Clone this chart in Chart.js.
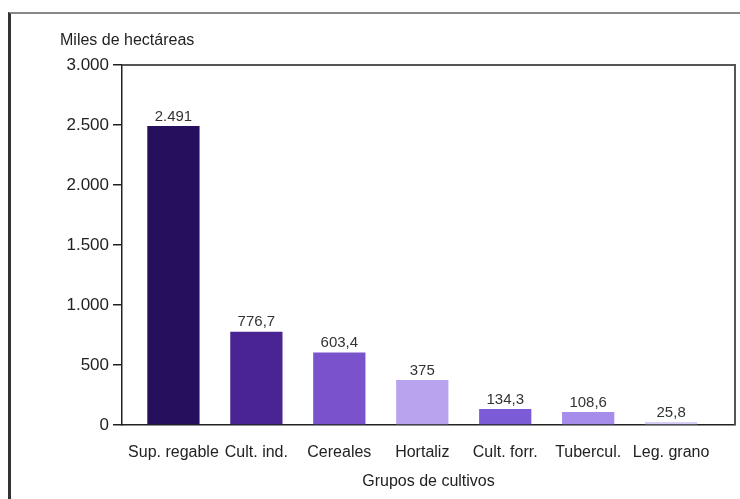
<!DOCTYPE html>
<html>
<head>
<meta charset="utf-8">
<script src="https://cdn.jsdelivr.net/npm/chart.js@4/dist/chart.umd.min.js"></script>
<style>
  html, body { margin: 0; padding: 0; background: #fff; }
  #wrap { position: relative; width: 740px; height: 499px; overflow: hidden; }
  #frame { position: absolute; left: 8px; top: 12px; width: 740px; height: 500px;
           border-left: 3px solid #333; border-top: 2px solid #888; box-sizing: border-box; }
  canvas { position: absolute; left: 0; top: 0; }
</style>
</head>
<body>
<div id="wrap">
  <div id="frame"></div>
  <canvas id="chart" width="740" height="499"></canvas>
</div>
<script>
// Datos: superficie de regadío por grupos de cultivos (miles de hectáreas)
const categories = ['Sup. regable', 'Cult. ind.', 'Cereales', 'Hortaliz', 'Cult. forr.', 'Tubercul.', 'Leg. grano'];
const values = [2491, 776.7, 603.4, 375, 134.3, 108.6, 25.8];
const valueLabels = ['2.491', '776,7', '603,4', '375', '134,3', '108,6', '25,8'];
const yTicks = [0, 500, 1000, 1500, 2000, 2500, 3000];

const BAR_COLORS = ['#26105e', '#4a2492', '#7a53cc', '#b9a3ef', '#7b5cd6', '#a68ceb', '#d8cdf6'];
const FONT = "'Liberation Sans', Arial, sans-serif";
const TEXT = '#222';

// Marco superior/derecho del área de trazado + etiqueta del eje Y
const framePlugin = {
    id: 'framePlugin',
    afterDraw(chart) {
        const { ctx, chartArea: a } = chart;
        ctx.save();
        ctx.strokeStyle = '#555';
        ctx.lineWidth = 2;
        ctx.beginPath();
        ctx.moveTo(a.left, a.top);
        ctx.lineTo(a.right, a.top);
        ctx.lineTo(a.right, a.bottom);
        ctx.stroke();

        ctx.fillStyle = TEXT;
        ctx.font = '16px ' + FONT;
        ctx.textAlign = 'left';
        ctx.textBaseline = 'middle';
        ctx.fillText('Miles de hectáreas', a.left - 62, a.top - 24);
        ctx.restore();
    }
};

// Valores encima de cada barra
const valuePlugin = {
    id: 'valuePlugin',
    afterDatasetsDraw(chart) {
        const { ctx } = chart;
        const meta = chart.getDatasetMeta(0);
        ctx.save();
        ctx.fillStyle = '#333';
        ctx.font = '15px ' + FONT;
        ctx.textAlign = 'center';
        ctx.textBaseline = 'bottom';
        meta.data.forEach((bar, i) => {
            ctx.fillText(valueLabels[i], bar.x, bar.y - 2);
        });
        ctx.restore();
    }
};

new Chart(document.getElementById('chart'), {
    type: 'bar',
    data: {
        datasets: [{
            data: values.map((v, i) => ({ x: i, y: v })),
            backgroundColor: BAR_COLORS,
            borderWidth: 0,
            categoryPercentage: 1,
            barPercentage: 0.63
        }]
    },
    options: {
        responsive: false,
        animation: false,
        layout: { padding: { top: 65, right: 5, left: 0, bottom: 0 } },
        plugins: {
            legend: { display: false },
            tooltip: { enabled: false }
        },
        scales: {
            x: {
                type: 'linear',
                offset: false,
                min: -0.62,
                max: 6.77,
                afterBuildTicks: scale => { scale.ticks = categories.map((_, i) => ({ value: i })); },
                afterFit: scale => { scale.height = 74; },
                ticks: {
                    color: TEXT,
                    font: { family: FONT, size: 16 },
                    padding: 10,
                    autoSkip: false,
                    maxRotation: 0,
                    callback: v => categories[v] ?? ''
                },
                grid: { display: false },
                border: { display: true, color: '#222', width: 1.5 },
                title: {
                    display: true,
                    text: 'Grupos de cultivos',
                    color: TEXT,
                    font: { family: FONT, size: 16 },
                    padding: { top: 4, bottom: 8 }
                }
            },
            y: {
                min: 0,
                max: 3000,
                afterBuildTicks: scale => { scale.ticks = yTicks.map(v => ({ value: v })); },
                afterFit: scale => { scale.width = 122; },
                ticks: {
                    color: TEXT,
                    font: { family: FONT, size: 17 },
                    padding: 4,
                    callback: v => v.toLocaleString('de-DE')
                },
                grid: { drawOnChartArea: false, drawTicks: true, tickLength: 9, color: '#222', lineWidth: 1.5 },
                border: { display: true, color: '#222', width: 1.5 }
            }
        }
    },
    plugins: [framePlugin, valuePlugin]
});
</script>
</body>
</html>
